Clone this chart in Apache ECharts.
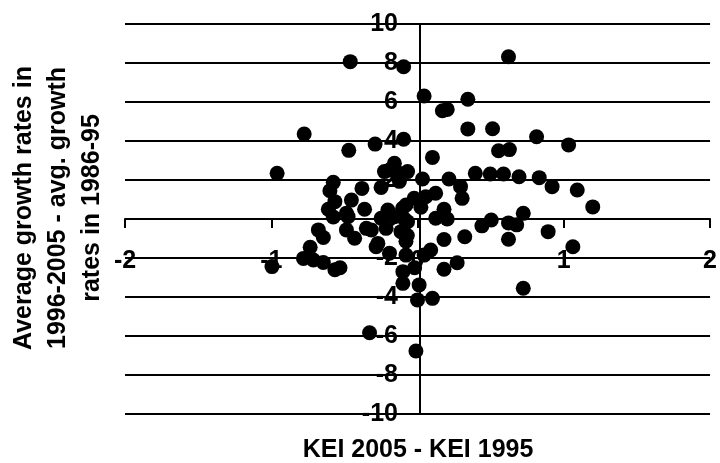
<!DOCTYPE html>
<html>
<head>
<meta charset="utf-8">
<script src="https://cdn.jsdelivr.net/npm/echarts@6/dist/echarts.min.js"></script>
<style>
html,body{margin:0;padding:0;background:#fff;}
#chart{width:720px;height:463px;}
</style>
</head>
<body>
<div id="chart"></div>
<script>
// KEI 2005 - KEI 1995
var xValues = [
  -0.46, -0.095, 0.622, 0.045, 0.17, 0.203, 0.344, 0.344, 0.513, 0.814,
  -0.095, -0.29, 1.033, -0.47, 0.554, 0.628, -0.775, -0.96, 0.102, -0.158,
  -0.192, -0.068, -0.136, -0.124, 0.034, 0.215, 0.395, 0.497, 0.588, 0.694,
  0.832, 0.294, 0.92, 1.092, 1.198, 0.305, 0.124, -0.023, 0.056, 0.023,
  0.181, 0.124, 0.203, 0.723, 0.504, 0.44, 0.622, 0.678, 0.893, 1.062,
  0.181, 0.323, 0.622, 0.09, 0.045, -0.079, 0.271, 0.181, -0.1, 0.723,
  -0.1, 0.011, 0.0, 0.102, -0.011, -0.328, -0.576, -0.599, -0.565, -0.61,
  -0.452, -0.38, -0.249, -0.362, -0.203, -0.102, -0.475, -0.576, -0.249, -0.158,
  -0.068, -0.316, -0.215, -0.113, -0.486, -0.43, -0.271, -0.079, -0.678, -0.644,
  -0.734, -0.78, -0.712, -0.644, -0.565, -0.53, -0.995, -0.192, -0.283, -0.35,
  -0.09, -0.079, -0.07, -0.226, -0.02, -0.486, -0.147
];
// Avg growth 1996-2005 - avg growth 1986-95
var yValues = [
  8.07, 7.81, 8.32, 6.31, 5.55, 5.62, 6.14, 4.62, 4.63, 4.22,
  4.09, 3.84, 3.8, 3.52, 3.5, 3.56, 4.36, 2.34, 3.16, 2.86,
  2.51, 2.43, 2.26, 1.93, 2.05, 2.05, 2.34, 2.31, 2.31, 2.17,
  2.12, 1.66, 1.66, 1.49, 0.62, 1.06, 1.32, 1.06, 1.14, 0.6,
  0.5, 0.04, 0.0, 0.29, -0.05, -0.35, -0.2, -0.3, -0.65, -1.42,
  -1.05, -0.91, -1.04, -1.59, -1.85, -1.85, -2.24, -2.58, -2.7, -3.55,
  -3.3, -3.38, -4.15, -4.07, -6.77, -5.83, 1.88, 1.45, 0.89, 0.5,
  0.97, 1.57, 1.62, 0.5, 0.46, 0.55, 0.12, 0.1, 0.04, 0.12,
  -0.14, -0.56, -0.48, -0.65, -0.56, -0.99, -1.25, -1.14, -0.56, -0.95,
  -1.45, -2.02, -2.1, -2.23, -2.6, -2.5, -2.44, -1.76, -1.42, -0.48,
  0.0, 0.72, -0.85, 2.43, -2.5, 0.3, 2.43
];
var xTicks = [-2, -1, 0, 1, 2];
var yTicks = [-10, -8, -6, -4, -2, 0, 2, 4, 6, 8, 10];
var xTitle = 'KEI 2005 - KEI 1995';
var yTitle = 'Average growth rates in\n1996-2005 - avg. growth\nrates in 1986-95';

var FONT = '"Liberation Sans", Arial, Helvetica, sans-serif';
var points = xValues.map(function (x, i) { return [x, yValues[i]]; });

var GRID_LEFT = 125, GRID_W = 590, GRID_TOP = 24, GRID_H = 390;
var xMin = xTicks[0], xMax = xTicks[xTicks.length - 1];
var yMin = yTicks[0], yMax = yTicks[yTicks.length - 1];
// move axes so they cross at zero (via the axes' own offset)
var yAxisOffset = -GRID_W * (0 - xMin) / (xMax - xMin);
var xAxisOffset = -GRID_H * (0 - yMin) / (yMax - yMin);

var chart = echarts.init(document.getElementById('chart'), null, {renderer: 'canvas'});
chart.setOption({
  animation: false,
  backgroundColor: '#fff',
  grid: {left: GRID_LEFT, width: GRID_W, top: GRID_TOP, height: GRID_H, containLabel: false},
  xAxis: {
    type: 'value', position: 'bottom', offset: xAxisOffset,
    min: xMin, max: xMax, interval: 1,
    axisLine: {show: true, onZero: false, lineStyle: {color: '#000', width: 2}},
    axisTick: {show: true, inside: false, length: 9, lineStyle: {color: '#000', width: 2}},
    axisLabel: {show: true, margin: 30, color: '#000', fontSize: 25, fontWeight: 'bold', fontFamily: FONT,
      showMinLabel: true, showMaxLabel: true, hideOverlap: false},
    splitLine: {show: false}
  },
  yAxis: {
    type: 'value', position: 'left', offset: yAxisOffset,
    min: yMin, max: yMax, interval: 2,
    axisLine: {show: true, onZero: false, lineStyle: {color: '#000', width: 2}},
    axisTick: {show: true, inside: false, length: 8, lineStyle: {color: '#000', width: 2}},
    axisLabel: {show: true, margin: 22, color: '#000', fontSize: 25, fontWeight: 'bold', fontFamily: FONT,
      showMinLabel: true, showMaxLabel: true, hideOverlap: false},
    splitLine: {show: true, lineStyle: {color: '#000', width: 2}}
  },
  graphic: [
    {
      type: 'text',
      x: 418, y: 450,
      style: {text: xTitle, fill: '#000', font: 'bold 25px ' + FONT, textAlign: 'center', textVerticalAlign: 'middle'}
    },
    {
      type: 'text',
      x: 58, y: 208,
      rotation: Math.PI / 2,
      style: {text: yTitle, fill: '#000', font: 'bold 25px ' + FONT, textAlign: 'center', textVerticalAlign: 'middle', lineHeight: 34}
    }
  ],
  series: [{
    type: 'scatter',
    data: points,
    symbol: 'circle',
    symbolSize: 15,
    itemStyle: {color: '#000', opacity: 1},
    emphasis: {disabled: true}
  }]
});
</script>
</body>
</html>
